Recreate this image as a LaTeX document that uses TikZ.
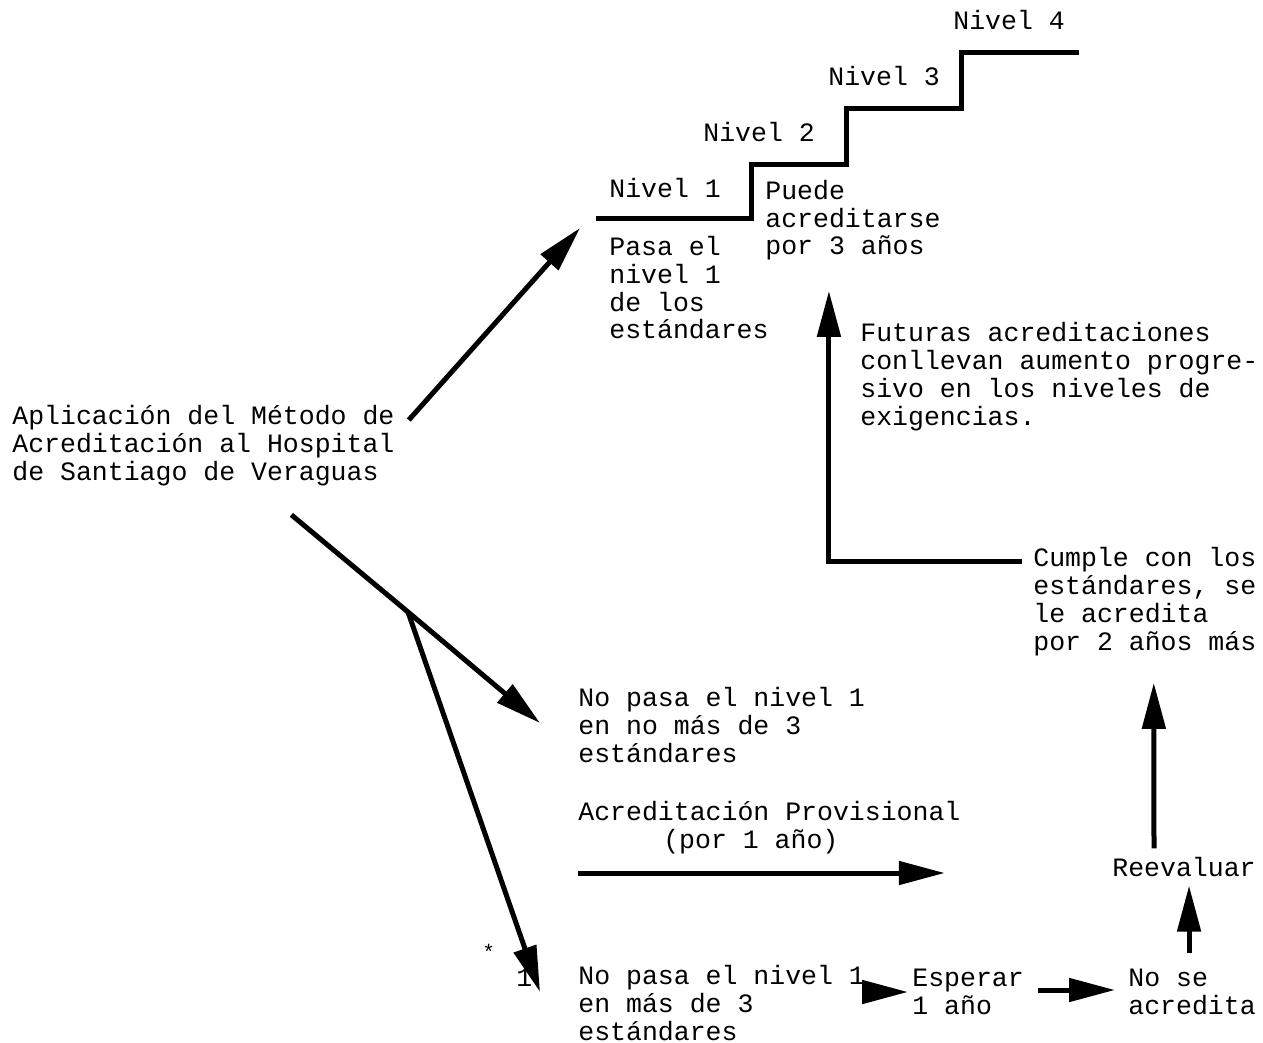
\documentclass[tikz,border=0pt]{standalone}
\usepackage{fontspec}
\setmonofont{Liberation Mono}
\usetikzlibrary{arrows.meta}
\tikzstyle{texto} = [anchor=base west, inner sep=0pt, align=left,
font=\ttfamily\fontsize{15.1pt}{15.93pt}\selectfont]
\tikzstyle{flecha} = [draw, line width=0.1cm, -{Triangle[length=0.92cm, width=0.46cm]}]
\tikzstyle{escalera} = [draw, line width=0.1cm]

\begin{document}
\begin{tikzpicture}[x=0.02cm, y=-0.02cm]
    \useasboundingbox (0,0) rectangle (1263,1043);

    % Nodes (placed at the baseline of their last line)
    \node [texto] (nivel1) at (609,198) {Nivel 1};
    \node [texto] (nivel2) at (703,142) {Nivel 2};
    \node [texto] (nivel3) at (828,86)  {Nivel 3};
    \node [texto] (nivel4) at (953,30)  {Nivel 4};
    \node [texto] (puede) at (765,255) {Puede\\acreditarse\\por 3 años};
    \node [texto] (pasa) at (609,339) {Pasa el\\nivel 1\\de los\\estándares};
    \node [texto] (futuras) at (860,425) {Futuras acreditaciones\\conllevan aumento progre-\\sivo en los niveles de\\exigencias.};
    \node [texto] (aplic) at (12,480) {Aplicación del Método de\\Acreditación al Hospital\\de Santiago de Veraguas};
    \node [texto] (cumple) at (1033,650) {Cumple con los\\estándares, se\\le acredita\\por 2 años más};
    \node [texto] (nopasa3) at (578,762) {No pasa el nivel 1\\en no más de 3\\estándares};
    \node [texto] (provisional) at (578,848) {Acreditación Provisional\\\hspace*{3.2em}(por 1 año)};
    \node [texto] (reeval) at (1112,876) {Reevaluar};
    \node [texto] (nopasa) at (578,1040) {No pasa el nivel 1\\en más de 3\\estándares};
    \node [texto] (esperar) at (912,1014) {Esperar\\1 año};
    \node [texto] (nose) at (1128,1014) {No se\\acredita};
    \node [texto] (uno) at (516,986) {1};
    \node [texto, font=\ttfamily\fontsize{12pt}{12pt}\selectfont] (asterisco) at (482,959) {*};

    % staircase
    \draw [escalera] (596,219) -- (751,219) -- (751,165) -- (846,165) -- (846,109)
        -- (961,109) -- (961,53) -- (1079,53);

    % arrows
    \coordinate (rama) at (408,612);
    \draw [flecha] ([shift={(14,-60)}]aplic.base east) -- ([shift={(-29,30)}]nivel1.base west);
    \draw [flecha] ([shift={(88,29)}]aplic.south) -- (rama) -- ([shift={(-38,-39)}]nopasa3.base west);
    \draw [flecha] (rama) -- ([shift={(-38,-48)}]nopasa.base west);
    \draw [flecha] ([shift={(0,25)}]provisional.base west) -- ([shift={(-16,25)}]provisional.base east);
    \draw [flecha] ([shift={(2,-48)}]nopasa.base east) -- ([shift={(-4,-22)}]esperar.base west);
    \draw [flecha] ([shift={(14,-24)}]esperar.base east) -- ([shift={(-13,-24)}]nose.base west);
    \draw [flecha] ([shift={(-3,-15)}]nose.north) -- ([shift={(-3,9)}]reeval.south -| nose.north);
    \draw [flecha] ([shift={(-30,-8)}]reeval.north) -- ([shift={(9,27)}]cumple.south);
    \draw [flecha] ([shift={(-11,-89)}]cumple.base west) -| ([shift={(-24,30)}]puede.south);

\end{tikzpicture}
\end{document}
